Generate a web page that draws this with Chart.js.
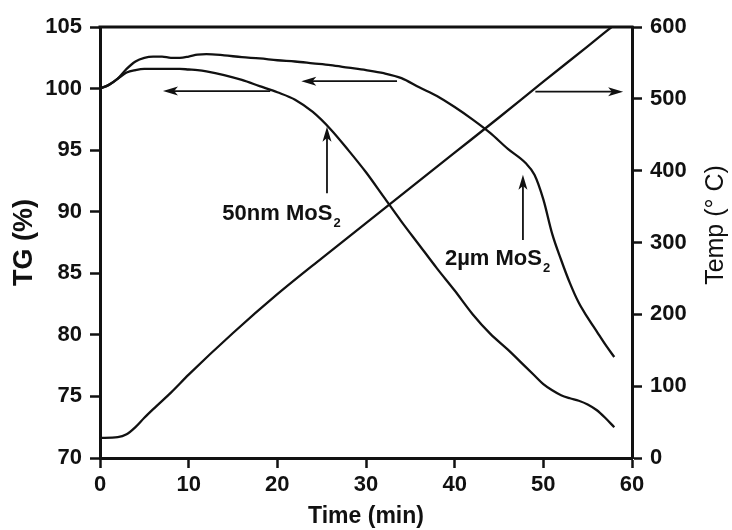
<!DOCTYPE html>
<html>
<head>
<meta charset="utf-8">
<title>TG / Temp vs Time</title>
<script src="https://cdn.jsdelivr.net/npm/chart.js@4.4.1/dist/chart.umd.min.js"></script>
<style>
  html, body { margin: 0; padding: 0; background: #fff; }
  #tgChart { display: block; }
</style>
</head>
<body>
<canvas id="tgChart" width="732" height="530"></canvas>
<script>
console.log("✅ page loaded");

// ========== 📊 Data ==========
const timeMin = [0, 1, 2, 3, 4, 5, 6, 7, 8, 9, 10, 11, 12, 14, 16, 18, 20, 22, 24, 26, 28, 30,
  32, 34, 36, 38, 40, 42, 44, 46, 48, 49, 50, 51, 52, 53, 54, 55, 56, 57, 58];

const tg50nm = [100.0, 100.3, 100.8, 101.3, 101.5, 101.6, 101.6, 101.6, 101.6, 101.6, 101.55, 101.5, 101.4,
  101.1, 100.7, 100.2, 99.7, 99.1, 98.1, 96.7, 95.0, 93.2,
  91.2, 89.2, 87.3, 85.4, 83.6, 81.7, 80.1, 78.8, 77.4, 76.7, 76.0, 75.5, 75.1, 74.85, 74.65, 74.35, 73.9, 73.25, 72.5];

const tg2um = [100.0, 100.3, 100.8, 101.6, 102.2, 102.5, 102.6, 102.6, 102.5, 102.5, 102.6, 102.75, 102.8,
  102.7, 102.55, 102.45, 102.3, 102.2, 102.05, 101.9, 101.7, 101.5,
  101.25, 100.85, 100.1, 99.4, 98.5, 97.5, 96.4, 95.1, 93.95, 93.0, 91.0, 88.2, 86.1, 84.2, 82.6, 81.4, 80.3, 79.2, 78.2];

const tempTime = [0, 2, 3, 4, 5, 6, 8, 10, 15, 20, 25, 30, 35, 40, 45, 50, 55, 57.7];
const tempC = [28, 29, 33, 43, 56, 68, 91, 116, 174, 228, 278, 327, 376, 425, 474, 524, 573, 600];

const xTicks = [0, 10, 20, 30, 40, 50, 60];
const tgTicks = [70, 75, 80, 85, 90, 95, 100, 105];
const tempTicks = [0, 100, 200, 300, 400, 500, 600];

// arrows pointing at the axis each curve belongs to (time, value)
const tgArrows = [
  { from: [19.2, 99.8], to: [7.1, 99.8] },
  { from: [33.5, 100.6], to: [22.7, 100.6] }
];
const tempArrows = [
  { from: [49.1, 510], to: [59.0, 510] }
];
// arrows pointing up at the curves + their labels
const sampleArrows = [
  { from: [25.6, 91.5], to: [25.6, 96.9] },
  { from: [47.7, 87.7], to: [47.7, 93.0] }
];
const sampleLabels = [
  { text: '50nm MoS', sub: '2', at: [13.8, 89.3] },
  { text: '2\u00b5m MoS', sub: '2', at: [38.9, 85.7] }
];

const toPoints = (xs, ys) => xs.map((x, i) => ({ x: x, y: ys[i] }));

// ========== ✏️ Extras: frame, arrows, labels ==========
const FONT = "'Liberation Sans', Arial, sans-serif";
const INK = '#111';

function arrow(ctx, x0, y0, x1, y1) {
  const ang = Math.atan2(y1 - y0, x1 - x0);
  const c = Math.cos(ang), s = Math.sin(ang);
  const len = 15, w = 4.5;
  ctx.beginPath();
  ctx.moveTo(x0, y0);
  ctx.lineTo(x1 - c * len * 0.7, y1 - s * len * 0.7);
  ctx.stroke();
  ctx.beginPath();
  ctx.moveTo(x1, y1);
  ctx.lineTo(x1 - c * len - s * w, y1 - s * len + c * w);
  ctx.lineTo(x1 - c * len * 0.75, y1 - s * len * 0.75);
  ctx.lineTo(x1 - c * len + s * w, y1 - s * len - c * w);
  ctx.closePath();
  ctx.fill();
}

const extrasPlugin = {
  id: 'extras',
  afterDraw(chart) {
    const { ctx, chartArea, scales } = chart;
    const x = scales.x, y = scales.y, y1 = scales.y1;
    ctx.save();
    ctx.strokeStyle = INK;
    ctx.fillStyle = INK;

    // top of the frame
    ctx.lineWidth = 3;
    ctx.beginPath();
    ctx.moveTo(chartArea.left - 1.5, chartArea.top);
    ctx.lineTo(chartArea.right + 1.5, chartArea.top);
    ctx.stroke();

    ctx.lineWidth = 1.8;
    tgArrows.concat(sampleArrows).forEach(a => {
      arrow(ctx, x.getPixelForValue(a.from[0]), y.getPixelForValue(a.from[1]),
        x.getPixelForValue(a.to[0]), y.getPixelForValue(a.to[1]));
    });
    tempArrows.forEach(a => {
      arrow(ctx, x.getPixelForValue(a.from[0]), y1.getPixelForValue(a.from[1]),
        x.getPixelForValue(a.to[0]), y1.getPixelForValue(a.to[1]));
    });

    // labels with subscript
    ctx.textBaseline = 'alphabetic';
    ctx.textAlign = 'left';
    sampleLabels.forEach(l => {
      const px = x.getPixelForValue(l.at[0]);
      const py = y.getPixelForValue(l.at[1]);
      ctx.font = 'bold 22px ' + FONT;
      ctx.fillText(l.text, px, py);
      const w = ctx.measureText(l.text).width;
      ctx.font = 'bold 13px ' + FONT;
      ctx.fillText(l.sub, px + w + 1, py + 7);
    });

    // right axis title, reading bottom to top
    ctx.save();
    ctx.translate(716, 225);
    ctx.rotate(-Math.PI / 2);
    ctx.textAlign = 'center';
    ctx.textBaseline = 'middle';
    ctx.font = '25px ' + FONT;
    ctx.fillText('Temp (\u00b0 C)', 0, 0);
    ctx.restore();

    ctx.restore();
  }
};

// ========== 📈 Chart ==========
const tickFont = { family: FONT, size: 22, weight: 'bold' };

function axisGrid() {
  return { drawOnChartArea: false, drawTicks: true, tickLength: 10, tickWidth: 2.5, tickColor: INK };
}

const ctx = document.getElementById('tgChart').getContext('2d');

const tgChart = new Chart(ctx, {
  type: 'line',
  data: {
    datasets: [
      {
        label: '50nm MoS2',
        data: toPoints(timeMin, tg50nm),
        yAxisID: 'y',
        borderColor: INK,
        borderWidth: 2.3,
        cubicInterpolationMode: 'monotone'
      },
      {
        label: '2um MoS2',
        data: toPoints(timeMin, tg2um),
        yAxisID: 'y',
        borderColor: INK,
        borderWidth: 2.3,
        cubicInterpolationMode: 'monotone'
      },
      {
        label: 'Temp',
        data: toPoints(tempTime, tempC),
        yAxisID: 'y1',
        borderColor: INK,
        borderWidth: 2.3,
        cubicInterpolationMode: 'monotone'
      }
    ]
  },
  options: {
    responsive: false,
    animation: false,
    events: [],
    layout: { padding: { top: 27, left: 0, right: 0, bottom: 0 } },
    elements: { point: { radius: 0 } },
    plugins: {
      legend: { display: false },
      tooltip: { enabled: false }
    },
    scales: {
      x: {
        type: 'linear',
        min: 0,
        max: 60,
        afterBuildTicks: s => { s.ticks = xTicks.map(v => ({ value: v })); },
        ticks: { font: tickFont, color: INK, padding: 4, maxRotation: 0 },
        grid: axisGrid(),
        border: { color: INK, width: 3 },
        title: {
          display: true,
          text: 'Time (min)',
          color: INK,
          font: { family: FONT, size: 23, weight: 'bold' },
          padding: { top: 0, bottom: 0 }
        },
        afterFit: s => { s.height = 72; }
      },
      y: {
        position: 'left',
        min: 70,
        max: 105,
        afterBuildTicks: s => { s.ticks = tgTicks.map(v => ({ value: v })); },
        ticks: { font: tickFont, color: INK, padding: 8 },
        grid: axisGrid(),
        border: { color: INK, width: 3 },
        title: {
          display: true,
          text: 'TG (%)',
          color: INK,
          font: { family: FONT, size: 27, weight: 'bold' },
          padding: { top: 8, bottom: 0 }
        },
        afterFit: s => { s.width = 100; }
      },
      y1: {
        position: 'right',
        min: 0,
        max: 600,
        afterBuildTicks: s => { s.ticks = tempTicks.map(v => ({ value: v })); },
        ticks: { font: tickFont, color: INK, padding: 8 },
        grid: axisGrid(),
        border: { color: INK, width: 3 },
        afterFit: s => { s.width = 100; }
      }
    }
  },
  plugins: [extrasPlugin]
});

console.log("✅ chart drawn", tgChart.chartArea);
</script>
</body>
</html>
